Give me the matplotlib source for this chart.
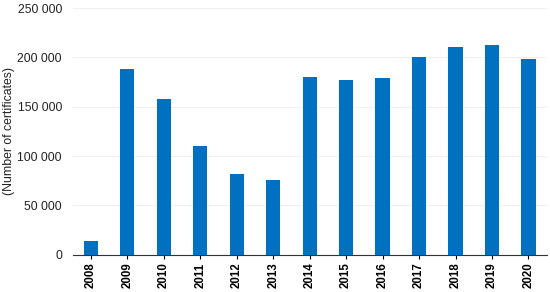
import matplotlib
matplotlib.use('Agg')
import matplotlib.pyplot as plt
import numpy as np

years = ['2008', '2009', '2010', '2011', '2012', '2013', '2014',
         '2015', '2016', '2017', '2018', '2019', '2020']
certificates = [13900, 188300, 157900, 110200, 82200, 75400, 180200,
                176900, 178900, 200800, 210600, 212700, 198500]
yticks = [0, 50000, 100000, 150000, 200000, 250000]
ytick_labels = ['0', '50 000', '100 000', '150 000', '200 000', '250 000']

plt.rcParams['font.family'] = ['Liberation Sans', 'DejaVu Sans']

fig = plt.figure(figsize=(5.5, 2.92), dpi=100)
ax = fig.add_axes([0.132, 0.128, 0.862, 0.844])

x = np.arange(len(years))
ax.bar(x, certificates, width=0.39, color='#0070C0', zorder=3)

ax.set_xlim(-0.5, len(years) - 0.5)
ax.set_ylim(0, 250000)
ax.set_yticks(yticks)
ax.set_yticklabels(ytick_labels, fontsize=8.8, color='#222222')
ax.set_xticks(x)
ax.set_xticklabels(years, rotation=90, fontsize=8.3, fontweight='bold')
ax.yaxis.grid(True, color='#f0f0f0', linewidth=0.8, zorder=0)
ax.tick_params(axis='y', length=0, pad=7.7)
ax.tick_params(axis='x', length=3, width=0.8, pad=2.5)

for s in ['top', 'right', 'left']:
    ax.spines[s].set_visible(False)
ax.spines['bottom'].set_color('#333333')
ax.spines['bottom'].set_linewidth(0.8)

ax.set_ylabel('(Number of certificates)', fontsize=8.8, color='#222222')
ax.yaxis.set_label_coords(-0.121, 0.5)

plt.savefig('out.png', dpi=100)
